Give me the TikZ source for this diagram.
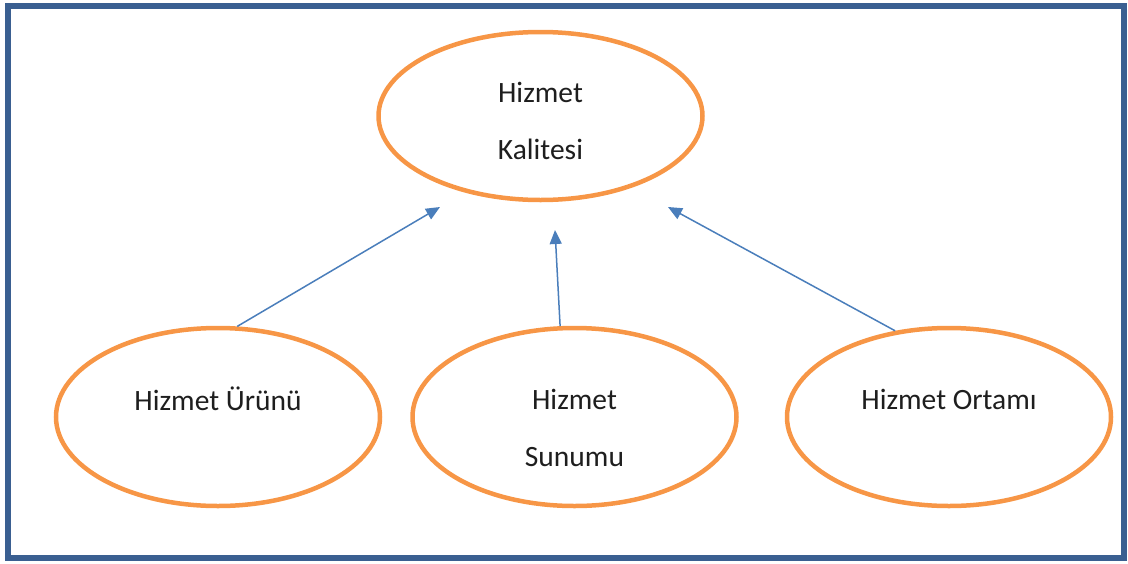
\documentclass[tikz,border=0pt]{standalone}
\usepackage{fontspec}
\setmainfont{Carlito}
\usetikzlibrary{arrows.meta,shapes.geometric}
\definecolor{frameblue}{RGB}{58,95,145}
\definecolor{ovalorange}{RGB}{247,150,70}
\definecolor{arrowblue}{RGB}{74,126,187}
\definecolor{txt}{RGB}{30,30,30}
\newcommand{\twolines}[2]{\vtop{\baselineskip=57pt\halign{\hfil##\hfil\cr #1\cr #2\cr}}}
\begin{document}
\begin{tikzpicture}[x=1pt,y=-1pt,
  oval/.style={ellipse, draw=ovalorange, line width=4.5pt, inner sep=0pt,
    text=txt, font=\fontsize{29.5}{57}\selectfont},
  bigoval/.style={oval, minimum width=324pt, minimum height=168pt},
  smalloval/.style={oval, minimum width=324pt, minimum height=178pt},
  link/.style={draw=arrowblue, line width=1.5pt,
    -{Triangle[length=14pt,width=12pt]}}]
\useasboundingbox (0,0) rectangle (1128,563);
\draw[frameblue, line width=6pt] (8,5.5) rectangle (1124,558);
\node[bigoval, text height=20pt, text depth=48pt] (top) at (540.5,116) {\twolines{Hizmet}{Kalitesi}};
\node[smalloval, text height=20pt, text depth=34pt] (urun) at (218,417) {Hizmet Ürünü};
\node[smalloval, text height=20pt, text depth=36pt] (sunum) at (574.5,417) {\twolines{Hizmet}{Sunumu}};
\node[smalloval, text height=20pt, text depth=36pt] (ortam) at (949,417) {Hizmet Ortamı};
\coordinate (t1) at (440,207);
\coordinate (t2) at (555,230);
\coordinate (t3) at (668,207);
\draw[link] (urun.78) -- (t1);
\draw[link] (sunum.99) -- (t2);
\draw[link] (ortam.122.7) -- (t3);
\end{tikzpicture}
\end{document}
